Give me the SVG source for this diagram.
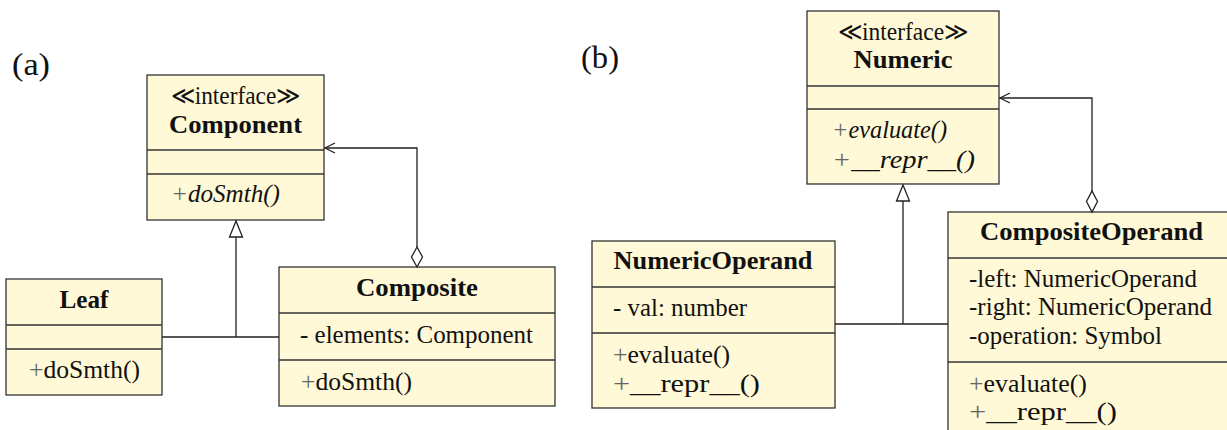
<svg xmlns="http://www.w3.org/2000/svg" width="1227" height="430" viewBox="0 0 1227 430">
<style>
  text { font-family: "Liberation Serif", "DejaVu Serif", serif; font-size: 25px; fill: #111; }
  .box { fill: #FFF9D7; stroke: #333; stroke-width: 1.3; }
  .sep { stroke: #333; stroke-width: 1.3; }
  .b { font-weight: bold; }
  .i { font-style: italic; }
  .m { text-anchor: middle; }
  .plus { fill: #666; }
  .lbl { font-size: 31px; }
  .conn { fill: none; stroke: #222; stroke-width: 1.3; }
  .tri { fill: #fff; stroke: #222; stroke-width: 1.3; }
</style>
<text class="lbl" x="12" y="75" textLength="38" lengthAdjust="spacingAndGlyphs">(a)</text>
<text class="lbl" x="581" y="68" textLength="38" lengthAdjust="spacingAndGlyphs">(b)</text>

<g id="Component">
  <rect class="box" x="147" y="75" width="177" height="145"/>
  <line class="sep" x1="147" y1="150" x2="324" y2="150"/>
  <line class="sep" x1="147" y1="174" x2="324" y2="174"/>
  <text class="m" x="235.5" y="104" textLength="130" lengthAdjust="spacingAndGlyphs">≪interface≫</text>
  <text class="m b" x="235.5" y="133" textLength="133" lengthAdjust="spacingAndGlyphs">Component</text>
  <text class="i" x="171" y="202" textLength="109" lengthAdjust="spacingAndGlyphs"><tspan class="plus">+</tspan>doSmth()</text>
</g>

<g id="Leaf">
  <rect class="box" x="6" y="279" width="156" height="116"/>
  <line class="sep" x1="6" y1="325" x2="162" y2="325"/>
  <line class="sep" x1="6" y1="349" x2="162" y2="349"/>
  <text class="m b" x="84" y="308" textLength="49" lengthAdjust="spacingAndGlyphs">Leaf</text>
  <text x="29" y="378" textLength="111" lengthAdjust="spacingAndGlyphs"><tspan class="plus">+</tspan>doSmth()</text>
</g>

<g id="Composite">
  <rect class="box" x="279" y="267" width="276" height="139"/>
  <line class="sep" x1="279" y1="313" x2="555" y2="313"/>
  <line class="sep" x1="279" y1="360" x2="555" y2="360"/>
  <text class="m b" x="417" y="296" textLength="122" lengthAdjust="spacingAndGlyphs">Composite</text>
  <text x="300" y="343" textLength="233" lengthAdjust="spacingAndGlyphs">- elements: Component</text>
  <text x="301" y="390" textLength="111" lengthAdjust="spacingAndGlyphs"><tspan class="plus">+</tspan>doSmth()</text>
</g>

<g id="Numeric">
  <rect class="box" x="807" y="11" width="192" height="173"/>
  <line class="sep" x1="807" y1="86" x2="999" y2="86"/>
  <line class="sep" x1="807" y1="109" x2="999" y2="109"/>
  <text class="m" x="903" y="40" textLength="131" lengthAdjust="spacingAndGlyphs">≪interface≫</text>
  <text class="m b" x="903" y="68" textLength="99" lengthAdjust="spacingAndGlyphs">Numeric</text>
  <text class="i" x="832" y="138" textLength="115" lengthAdjust="spacingAndGlyphs"><tspan class="plus">+</tspan>evaluate()</text>
  <text class="i" x="832" y="168" textLength="143" lengthAdjust="spacingAndGlyphs"><tspan class="plus">+</tspan>__repr__()</text>
</g>

<g id="NumericOperand">
  <rect class="box" x="592" y="241" width="243" height="167"/>
  <line class="sep" x1="592" y1="287" x2="835" y2="287"/>
  <line class="sep" x1="592" y1="333" x2="835" y2="333"/>
  <text class="m b" x="713" y="269" textLength="199" lengthAdjust="spacingAndGlyphs">NumericOperand</text>
  <text x="613" y="316" textLength="134" lengthAdjust="spacingAndGlyphs">- val: number</text>
  <text x="613" y="363" textLength="117" lengthAdjust="spacingAndGlyphs"><tspan class="plus">+</tspan>evaluate()</text>
  <text x="613" y="392" textLength="147" lengthAdjust="spacingAndGlyphs"><tspan class="plus">+</tspan>__repr__()</text>
</g>

<g id="CompositeOperand">
  <rect class="box" x="948" y="212" width="287" height="240"/>
  <line class="sep" x1="948" y1="258" x2="1235" y2="258"/>
  <line class="sep" x1="948" y1="362" x2="1235" y2="362"/>
  <text class="b" x="980" y="240" textLength="223" lengthAdjust="spacingAndGlyphs">CompositeOperand</text>
  <text x="969" y="287" textLength="228" lengthAdjust="spacingAndGlyphs">-left: NumericOperand</text>
  <text x="969" y="315" textLength="243" lengthAdjust="spacingAndGlyphs">-right: NumericOperand</text>
  <text x="969" y="344" textLength="193" lengthAdjust="spacingAndGlyphs">-operation: Symbol</text>
  <text x="969" y="392" textLength="118" lengthAdjust="spacingAndGlyphs"><tspan class="plus">+</tspan>evaluate()</text>
  <text x="969" y="420" textLength="148" lengthAdjust="spacingAndGlyphs"><tspan class="plus">+</tspan>__repr__()</text>
</g>

<g id="connectors">
  <!-- (a) realization -->
  <path class="conn" d="M162,337 H279 M236,337 V237"/>
  <polygon class="tri" points="236,221 229.5,237 242.5,237"/>
  <!-- (a) aggregation -->
  <path class="conn" d="M417,247 V148 H324.5"/>
  <path class="conn" d="M335,143 L325,148 L335,153"/>
  <polygon class="tri" points="417,267 411.5,257 417,247 422.5,257"/>
  <!-- (b) realization -->
  <path class="conn" d="M835,324 H948 M903,324 V201"/>
  <polygon class="tri" points="903,185 896.5,201 909.5,201"/>
  <!-- (b) aggregation -->
  <path class="conn" d="M1092,191 V98 H999.5"/>
  <path class="conn" d="M1010,93 L1000,98 L1010,103"/>
  <polygon class="tri" points="1092,212 1086.5,201.5 1092,191 1097.5,201.5"/>
</g>
</svg>
